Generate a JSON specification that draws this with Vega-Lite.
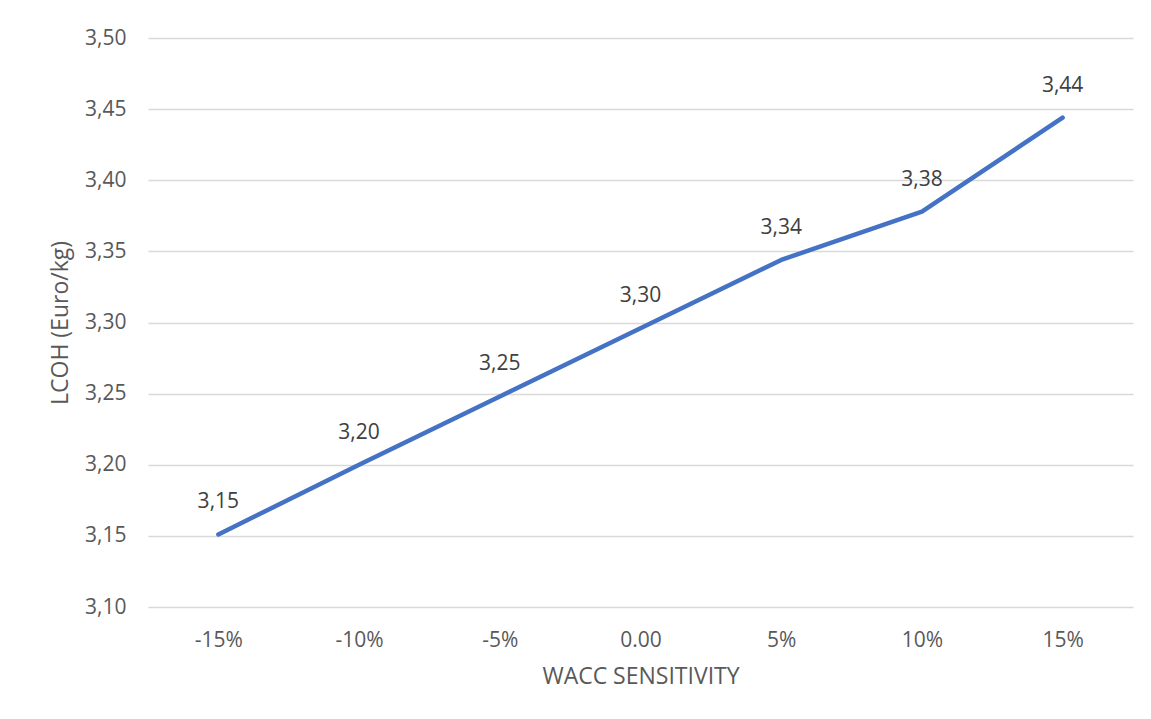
{
  "$schema": "https://vega.github.io/schema/vega-lite/v6.json",
  "width": 985,
  "height": 569,
  "autosize": {"type": "none"},
  "padding": {"left": 148, "top": 38, "right": 18, "bottom": 112},
  "background": "white",
  "config": {
    "view": {"stroke": null},
    "font": "Open Sans"
  },
  "data": {
    "values": [
      {"wacc": "-15%", "lcoh": 3.151, "label": "3,15"},
      {"wacc": "-10%", "lcoh": 3.200, "label": "3,20"},
      {"wacc": "-5%", "lcoh": 3.248, "label": "3,25"},
      {"wacc": "0.00", "lcoh": 3.296, "label": "3,30"},
      {"wacc": "5%", "lcoh": 3.344, "label": "3,34"},
      {"wacc": "10%", "lcoh": 3.378, "label": "3,38"},
      {"wacc": "15%", "lcoh": 3.444, "label": "3,44"}
    ]
  },
  "encoding": {
    "x": {
      "field": "wacc",
      "type": "ordinal",
      "sort": null,
      "scale": {"type": "point", "padding": 0.5},
      "axis": {
        "title": "WACC SENSITIVITY",
        "labelAngle": 0,
        "domain": false,
        "ticks": false,
        "grid": false,
        "labelPadding": 22,
        "labelFontSize": 21,
        "labelColor": "#595959",
        "titleFontSize": 23,
        "titleFontWeight": "normal",
        "titleColor": "#595959",
        "titlePadding": 15
      }
    },
    "y": {
      "field": "lcoh",
      "type": "quantitative",
      "scale": {"domain": [3.1, 3.5], "nice": false, "zero": false},
      "axis": {
        "title": "LCOH (Euro/kg)",
        "values": [3.1, 3.15, 3.2, 3.25, 3.3, 3.35, 3.4, 3.45, 3.5],
        "labelExpr": "replace(format(datum.value, '.2f'), '.', ',')",
        "domain": false,
        "ticks": false,
        "grid": true,
        "gridColor": "#d9d9d9",
        "gridWidth": 1.5,
        "labelPadding": 22,
        "labelFontSize": 21,
        "labelColor": "#595959",
        "titleFontSize": 23,
        "titleFontWeight": "normal",
        "titleColor": "#595959",
        "titlePadding": 12
      }
    }
  },
  "layer": [
    {
      "mark": {"type": "line", "color": "#4472C4", "strokeWidth": 4.5, "strokeCap": "round", "strokeJoin": "round"}
    },
    {
      "mark": {"type": "text", "dy": -32, "fontSize": 21, "color": "#404040", "baseline": "middle"},
      "encoding": {"text": {"field": "label", "type": "nominal"}}
    }
  ]
}
